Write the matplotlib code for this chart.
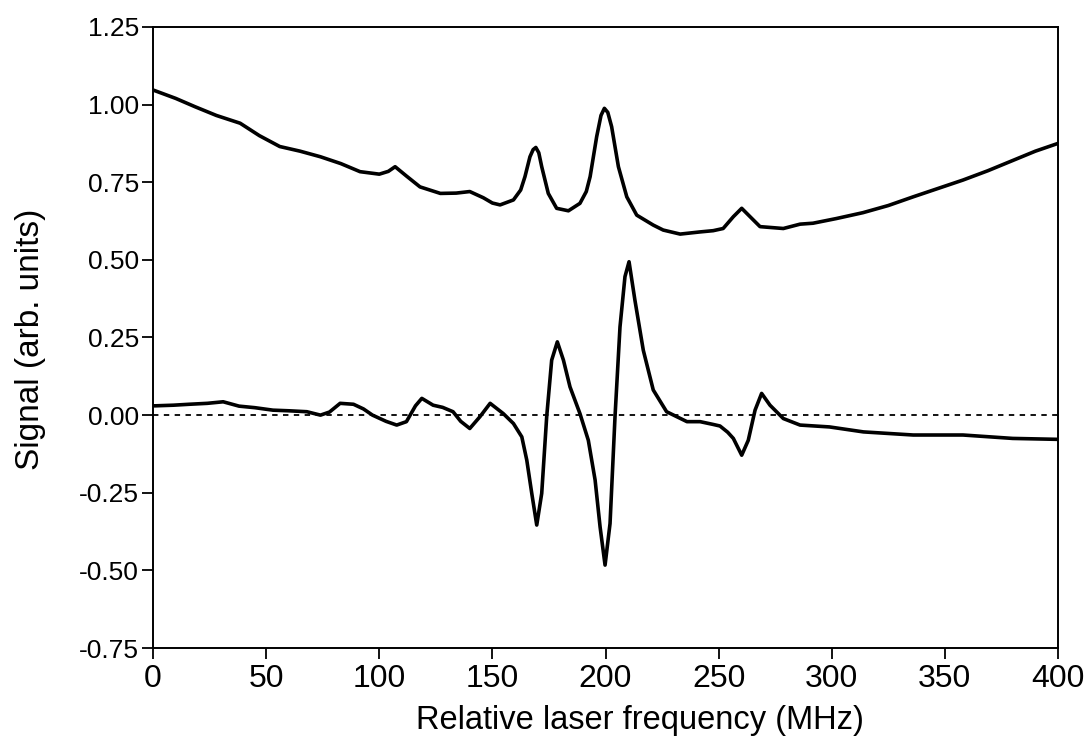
import matplotlib
matplotlib.use("Agg")
import matplotlib.pyplot as plt
import numpy as np

# transmission signal (upper trace)
freq_upper = [0, 10, 18.6, 28, 38.5, 47, 56, 65, 74, 83, 91.5, 100, 104, 107, 112,
              118, 127, 134, 140, 146, 150, 153.4, 159.3, 162.5, 164.4, 166.6,
              168, 169.2, 170.5, 171.8, 174.7, 178.4, 183.6, 188.7, 191.5, 193.2,
              196.1, 198, 199.5, 201, 202.7, 205.7, 209.4, 213.8, 221.1, 225.5,
              233, 241.8, 247.6, 252, 256.5, 260.2, 263.9, 268.3, 278.6, 286,
              291.7, 302, 313.8, 325, 336, 347, 358, 369, 380, 390, 400]
signal_upper = [1.047, 1.02, 0.993, 0.965, 0.94, 0.9, 0.865, 0.85, 0.832, 0.81,
                0.784, 0.776, 0.785, 0.80, 0.77, 0.735, 0.714, 0.715, 0.72, 0.70,
                0.683, 0.677, 0.693, 0.725, 0.768, 0.832, 0.855, 0.862, 0.845,
                0.80, 0.714, 0.666, 0.658, 0.682, 0.72, 0.768, 0.897, 0.965,
                0.988, 0.975, 0.929, 0.80, 0.703, 0.644, 0.612, 0.596, 0.583,
                0.59, 0.594, 0.601, 0.639, 0.666, 0.639, 0.607, 0.601, 0.615,
                0.618, 0.633, 0.652, 0.675, 0.703, 0.73, 0.757, 0.787, 0.82,
                0.85, 0.875]

# dispersive (derivative-like) signal (lower trace)
freq_lower = [0, 1, 9, 16, 24, 31, 38, 45, 53, 60, 68, 74, 78, 82.7, 88.6, 93, 97,
              103, 107.7, 112, 116, 118.8, 123.8, 128, 132.6, 136, 140, 144.5,
              149, 154.8, 159.3, 163, 165.2, 167.4, 169.6, 171.8, 174, 176.2,
              178.7, 181.4, 184.3, 188.7, 192.4, 195.4, 197.6, 199.8, 202, 204.2,
              206.4, 208.6, 210.4, 213, 216.7, 221.1, 227, 236, 241.8, 247.6,
              250.6, 254, 256.5, 260.2, 263.1, 266.1, 269, 272.7, 278.6, 286, 299,
              314, 336, 358, 380, 400]
signal_lower = [0.03, 0.03, 0.032, 0.035, 0.038, 0.043, 0.029, 0.024, 0.016,
                0.014, 0.011, 0.0, 0.01, 0.038, 0.035, 0.02, 0.0, -0.02, -0.032,
                -0.021, 0.03, 0.054, 0.032, 0.025, 0.011, -0.02, -0.043, -0.005,
                0.038, 0.005, -0.027, -0.07, -0.145, -0.252, -0.354, -0.252,
                -0.005, 0.177, 0.236, 0.177, 0.091, 0.005, -0.081, -0.209, -0.36,
                -0.483, -0.349, -0.005, 0.284, 0.446, 0.494, 0.37, 0.209, 0.081,
                0.011, -0.021, -0.021, -0.03, -0.035, -0.055, -0.075, -0.129,
                -0.081, 0.016, 0.07, 0.032, -0.011, -0.032, -0.038, -0.054,
                -0.064, -0.064, -0.075, -0.078]

xticks = [0, 50, 100, 150, 200, 250, 300, 350, 400]
yticks = [-0.75, -0.5, -0.25, 0.0, 0.25, 0.5, 0.75, 1.0, 1.25]

font = ["Liberation Sans", "DejaVu Sans"]

fig = plt.figure(figsize=(10.87, 7.49), dpi=100)
ax = fig.add_axes([0.1408, 0.1348, 0.8325, 0.8292])

ax.plot(freq_upper, signal_upper, color="black", lw=2.6)
ax.plot(freq_lower, signal_lower, color="black", lw=2.6)
ax.plot([0, 400], [0, 0], color="black", lw=1.3, linestyle=(0, (3, 3)))

ax.set_xlim(0, 400)
ax.set_ylim(-0.75, 1.25)
ax.set_xticks(xticks)
ax.set_yticks(yticks)
ax.set_xticklabels([str(t) for t in xticks], family=font, fontsize=23)
ax.set_yticklabels(["%.2f" % t for t in yticks], family=font, fontsize=19)
ax.tick_params(direction="out", length=8, width=1.3)
ax.tick_params(axis="y", pad=2)

for s in ax.spines.values():
    s.set_linewidth(1.4)

ax.set_xlabel("Relative laser frequency (MHz)", family=font, fontsize=23.5)
ax.set_ylabel("Signal (arb. units)", family=font, fontsize=24)
ax.xaxis.set_label_coords(0.538, -0.092)
ax.yaxis.set_label_coords(-0.118, 0.497)

fig.savefig("out.png", dpi=100)
